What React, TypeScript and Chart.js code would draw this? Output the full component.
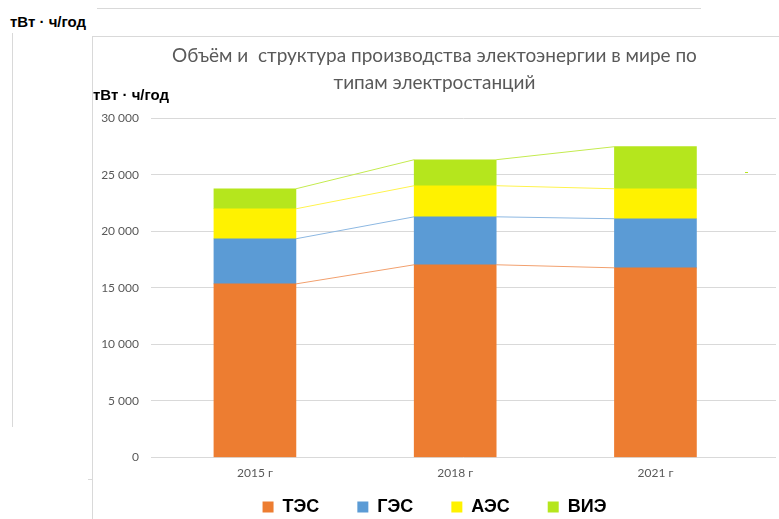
import React, { useEffect, useRef } from 'react';
import { Chart, registerables } from 'chart.js';

Chart.register(...registerables);

const categories = ['2015 г', '2018 г', '2021 г'];
const seriesNames = ['ТЭС', 'ГЭС', 'АЭС', 'ВИЭ'];
const tesValues = [15350, 17040, 16770];
const gesValues = [3990, 4240, 4340];
const aesValues = [2650, 2750, 2650];
const vieValues = [1770, 2300, 3720];
const yTickValues = [0, 5000, 10000, 15000, 20000, 25000, 30000];
const titleLines = [
  'Объём и  структура производства электоэнергии в мире по',
  'типам электростанций',
];
const unitLabel = 'тВт · ч/год';

const seriesValues = [tesValues, gesValues, aesValues, vieValues];
const seriesColors = ['#ED7D31', '#5B9BD5', '#FFF200', '#B5E61D'];
const lineColors = ['#F2A06E', '#8DB8E2', '#FFF34D', '#C4EB4F'];

const fmt = (v: number) => String(v).replace(/\B(?=(\d{3})+(?!\d))/g, ' ');

const seriesLinesPlugin = {
  id: 'seriesLines',
  afterDatasetsDraw(chart: any) {
    const ctx = chart.ctx;
    chart.data.datasets.forEach((_ds: any, di: number) => {
      const els = chart.getDatasetMeta(di).data;
      ctx.save();
      ctx.strokeStyle = lineColors[di];
      ctx.lineWidth = 1;
      for (let i = 0; i < els.length - 1; i++) {
        const a = els[i];
        const b = els[i + 1];
        ctx.beginPath();
        ctx.moveTo(a.x + a.width / 2, a.y);
        ctx.lineTo(b.x - b.width / 2, b.y);
        ctx.stroke();
      }
      ctx.restore();
    });
  },
};

export default function App() {
  const canvasRef = useRef<HTMLCanvasElement | null>(null);

  useEffect(() => {
    if (!canvasRef.current) return;
    const chart = new Chart(canvasRef.current, {
      type: 'bar',
      data: {
        datasets: seriesNames.map((name, di) => ({
          label: name,
          data: seriesValues[di].map((v, i) => ({ x: i, y: v })),
          backgroundColor: seriesColors[di],
          borderWidth: 0,
          barThickness: 82,
        })),
      },
      options: {
        animation: false,
        responsive: false,
        maintainAspectRatio: false,
        layout: { padding: { left: 0, right: 3, top: 0, bottom: 0 } },
        scales: {
          x: {
            type: 'linear',
            stacked: true,
            offset: false,
            min: -0.519,
            max: 2.602,
            grid: { display: false, drawTicks: false, offset: false },
            border: { display: false },
            afterBuildTicks: (axis: any) => {
              axis.ticks = categories.map((_c, i) => ({ value: i }));
            },
            afterFit: (axis: any) => {
              axis.height = 2.5;
            },
            ticks: {
              callback: (v: any) => categories[v] ?? '',
              color: '#595959',
              font: { family: 'Lato', size: 12 },
              mirror: true,
              padding: -22.7,
              maxRotation: 0,
              autoSkip: false,
            },
          },
          y: {
            stacked: true,
            min: 0,
            max: 30000,
            afterBuildTicks: (axis: any) => {
              axis.ticks = yTickValues.map((v) => ({ value: v }));
            },
            afterFit: (axis: any) => {
              axis.width = 58;
            },
            grid: { color: '#D9D9D9', drawTicks: false },
            border: { display: false },
            ticks: {
              callback: (v: any) => fmt(Number(v)),
              color: '#595959',
              font: { family: 'Lato', size: 12 },
              padding: 12,
            },
          },
        },
        plugins: {
          title: {
            display: true,
            text: titleLines,
            color: '#595959',
            font: { family: 'Lato', size: 19, weight: 'normal', lineHeight: 1.4 },
            padding: { top: 6, bottom: 22 },
          },
          legend: {
            position: 'bottom',
            labels: {
              boxWidth: 11,
              boxHeight: 11,
              padding: 38,
              color: '#000000',
              font: { family: 'Liberation Sans', size: 18, weight: 'bold' },
            },
          },
          tooltip: { enabled: false },
        },
      },
      plugins: [seriesLinesPlugin],
    } as any);
    return () => chart.destroy();
  }, []);

  const textStyle: React.CSSProperties = {
    position: 'absolute',
    fontFamily: '"Liberation Sans", Arial, sans-serif',
    fontWeight: 'bold',
    fontSize: 15,
    color: '#000',
    whiteSpace: 'nowrap',
    lineHeight: '17px',
  };

  return (
    <div style={{ position: 'fixed', left: 0, top: 0, width: 779, height: 519, background: '#fff', overflow: 'hidden' }}>
      <div style={{ position: 'absolute', left: 97, top: 8, width: 604, height: 1, background: '#D9D9D9' }} />
      <div style={{ position: 'absolute', left: 12, top: 33, width: 1, height: 394, background: '#D9D9D9' }} />
      <div style={{ position: 'absolute', left: 92, top: 36, width: 687, height: 1, background: '#D9D9D9' }} />
      <div style={{ position: 'absolute', left: 92, top: 36, width: 1, height: 483, background: '#D9D9D9' }} />
      <div style={{ position: 'absolute', left: 88, top: 479, width: 4, height: 1, background: '#D9D9D9' }} />
      <div style={{ position: 'absolute', left: 745, top: 172, width: 3, height: 1, background: '#B5E61D' }} />
      <div style={{ ...textStyle, left: 10, top: 13 }}>{unitLabel}</div>
      <canvas
        ref={canvasRef}
        width={686}
        height={489}
        style={{ position: 'absolute', left: 93, top: 37, width: 686, height: 489 }}
      />
      <div style={{ ...textStyle, left: 93, top: 86 }}>{unitLabel}</div>
    </div>
  );
}
